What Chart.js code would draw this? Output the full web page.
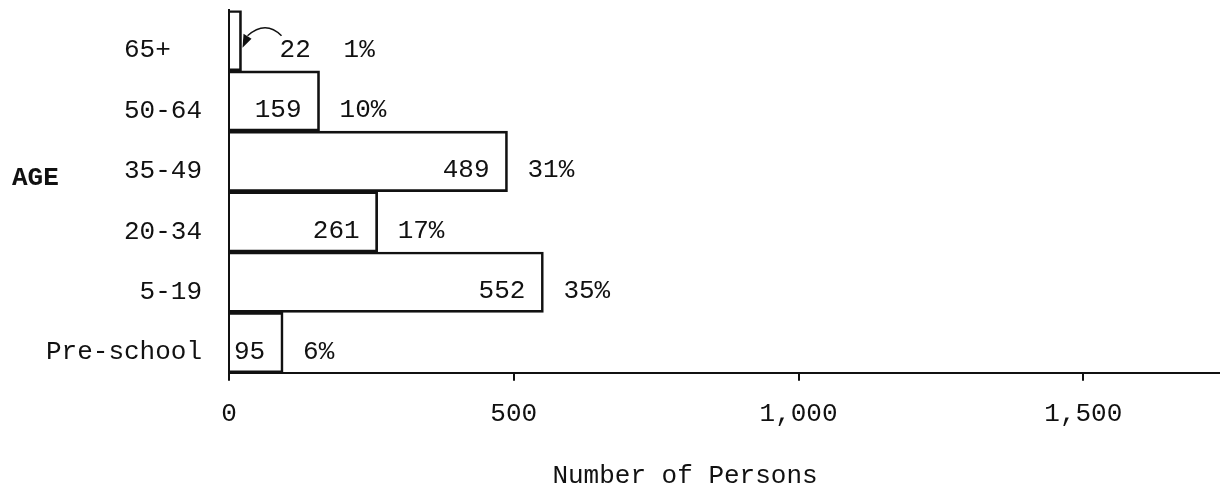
<!DOCTYPE html>
<html>
<head>
<meta charset="utf-8">
<title>Age distribution</title>
<script src="https://cdn.jsdelivr.net/npm/chart.js@4.4.1/dist/chart.umd.min.js"></script>
<style>
    html, body { margin: 0; padding: 0; background: #fff; }
    #wrap { width: 1220px; height: 495px; position: relative; }
</style>
</head>
<body>
<div id="wrap"><canvas id="chart"></canvas></div>
<script>
// Values (top row first)
const ageGroups = ['65+', '50-64', '35-49', '20-34', '5-19', 'Pre-school'];
const persons = [22, 159, 489, 261, 552, 95];
const shares = ['1%', '10%', '31%', '17%', '35%', '6%'];
const xTicks = [0, 500, 1000, 1500];
const xMax = 1740;

const INK = '#111';
const TYPE = '"Liberation Mono", "DejaVu Sans Mono", monospace';
const SIZE = 26;

/**
 * Write the number and the percentage beside each bar
 */
const barNotes = {
    id: 'barNotes',
    afterDatasetsDraw(chart) {
        const ctx = chart.ctx;
        const meta = chart.getDatasetMeta(0);
        ctx.save();
        ctx.fillStyle = INK;
        ctx.strokeStyle = INK;
        ctx.font = SIZE + 'px ' + TYPE;
        ctx.textBaseline = 'middle';

        meta.data.forEach((bar, i) => {
            const end = bar.x;
            const bottom = bar.y + bar.height / 2;
            const y = bottom - 21;

            if (i === 0) {
                // too short to hold the number: write it outside, with a hooked arrow
                ctx.textAlign = 'left';
                ctx.fillText(String(persons[i]), end + 38, y);
                ctx.fillText(shares[i], end + 102, y);

                ctx.lineWidth = 1.5;
                ctx.beginPath();
                ctx.moveTo(end + 40, y - 14);
                ctx.quadraticCurveTo(end + 24, y - 30, end + 6, y - 14);
                ctx.stroke();
                ctx.beginPath();
                ctx.moveTo(end + 1, y - 2);
                ctx.lineTo(end + 2, y - 16);
                ctx.lineTo(end + 10, y - 11);
                ctx.closePath();
                ctx.fill();
                return;
            }

            ctx.textAlign = 'right';
            ctx.fillText(String(persons[i]), end - 18, y);
            ctx.textAlign = 'left';
            ctx.fillText(shares[i], end + 20, y);
        });
        ctx.restore();
    }
};

/**
 * Side labels: "AGE" on the left and the axis caption under the numbers
 */
const sideLabels = {
    id: 'sideLabels',
    afterDraw(chart) {
        const ctx = chart.ctx;
        const area = chart.chartArea;
        const yScale = chart.scales.y;
        ctx.save();
        ctx.fillStyle = INK;
        ctx.textBaseline = 'middle';

        ctx.font = 'bold ' + SIZE + 'px ' + TYPE;
        ctx.textAlign = 'left';
        ctx.fillText('AGE', 12, yScale.getPixelForValue(2) + 17);

        ctx.font = SIZE + 'px ' + TYPE;
        ctx.textAlign = 'center';
        ctx.fillText('Number of Persons', area.left + 456, 476);
        ctx.restore();
    }
};

document.addEventListener('DOMContentLoaded', function() {
    const ctx = document.getElementById('chart').getContext('2d');

    Chart.defaults.font.family = TYPE;
    Chart.defaults.font.size = SIZE;
    Chart.defaults.color = INK;

    new Chart(ctx, {
        type: 'bar',
        data: {
            labels: ageGroups,
            datasets: [{
                data: persons,
                backgroundColor: 'rgba(255,255,255,0)',
                borderColor: INK,
                borderWidth: 2,
                barPercentage: 1,
                categoryPercentage: 1
            }]
        },
        options: {
            indexAxis: 'y',
            responsive: true,
            maintainAspectRatio: false,
            animation: false,
            layout: {
                padding: { top: 10, right: 0, bottom: 47, left: 10 }
            },
            plugins: {
                legend: { display: false },
                tooltip: { enabled: false }
            },
            scales: {
                x: {
                    min: 0,
                    max: xMax,
                    afterBuildTicks(scale) {
                        scale.ticks = xTicks.map(v => ({ value: v }));
                    },
                    ticks: {
                        padding: 18,
                        maxRotation: 0,
                        callback: v => v.toLocaleString('en-US')
                    },
                    grid: {
                        drawOnChartArea: false,
                        drawTicks: true,
                        tickLength: 8,
                        color: INK,
                        lineWidth: 2
                    },
                    border: { display: true, color: INK, width: 2 }
                },
                y: {
                    afterFit(scale) {
                        scale.width = 219;
                    },
                    ticks: {
                        padding: 0,
                        labelOffset: 10,
                        font: { lineHeight: 0.8 },
                        // the typist tabbed "65+" to the same start as "50-64"
                        callback: (v, i) => ageGroups[i].length < 4 ? ageGroups[i].padEnd(5, ' ') : ageGroups[i]
                    },
                    // no marks drawn, the tick length only keeps the labels off the axis
                    grid: { display: false, drawTicks: true, tickLength: 27 },
                    border: { display: true, color: INK, width: 2 }
                }
            }
        },
        plugins: [barNotes, sideLabels]
    });
});
</script>
</body>
</html>
